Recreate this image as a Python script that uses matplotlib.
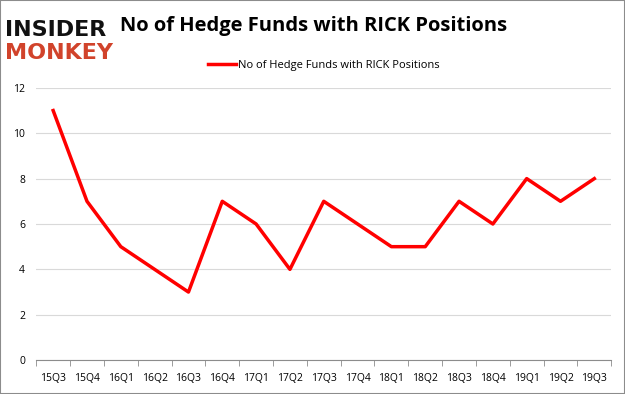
import matplotlib.pyplot as plt
import numpy as np

quarters = ['15Q3', '15Q4', '16Q1', '16Q2', '16Q3', '16Q4', '17Q1', '17Q2', '17Q3',
            '17Q4', '18Q1', '18Q2', '18Q3', '18Q4', '19Q1', '19Q2', '19Q3']
funds = [11, 7, 5, 4, 3, 7, 6, 4, 7, 6, 5, 5, 7, 6, 8, 7, 8]
y_ticks = [0, 2, 4, 6, 8, 10, 12]

plt.rcParams['font.family'] = ['Open Sans', 'DejaVu Sans']

fig = plt.figure(figsize=(6.25, 3.94), dpi=100)
# gray frame round the whole picture
fig.patches.append(plt.Rectangle((0, 0), 1, 1, transform=fig.transFigure, fill=False,
                                 edgecolor='#8c8c8c', linewidth=1.5))

ax = fig.add_axes([0.058, 0.086, 0.92, 0.691])
x = np.arange(len(quarters))
ax.plot(x, funds, color='#ff0000', linewidth=2.5, label='No of Hedge Funds with RICK Positions')

ax.set_xlim(-0.5, len(quarters) - 0.5)
ax.set_ylim(0, 12)
ax.set_yticks(y_ticks)
ax.set_xticks(x)
ax.set_xticklabels(quarters, fontsize=7.5)
ax.set_xticks(np.arange(-0.5, len(quarters)), minor=True)
ax.tick_params(axis='x', which='major', length=0, pad=9)
ax.tick_params(axis='x', which='minor', length=4, color='#8c8c8c')
ax.tick_params(axis='y', length=0, labelsize=7.5, pad=8)
ax.grid(axis='y', color='#d9d9d9', linewidth=0.8)
ax.set_axisbelow(True)
for side in ['top', 'right', 'left']:
    ax.spines[side].set_visible(False)
ax.spines['bottom'].set_color('#8c8c8c')

ax.legend(loc='upper center', bbox_to_anchor=(0.5, 1.14), frameon=False, fontsize=8,
          handlelength=2.5, handletextpad=0.2)

# logo and title
fig.text(0.008, 0.925, 'INSIDER', fontsize=16, fontweight='heavy', color='#111111', va='center',
         family='DejaVu Sans')
fig.text(0.008, 0.865, 'MONKEY', fontsize=16, fontweight='heavy', color='#d1432b', va='center',
         family='DejaVu Sans')
fig.text(0.192, 0.935, 'No of Hedge Funds with RICK Positions', fontsize=14.5, fontweight='bold',
         color='#000000', va='center')

fig.savefig('out.png', dpi=100)
